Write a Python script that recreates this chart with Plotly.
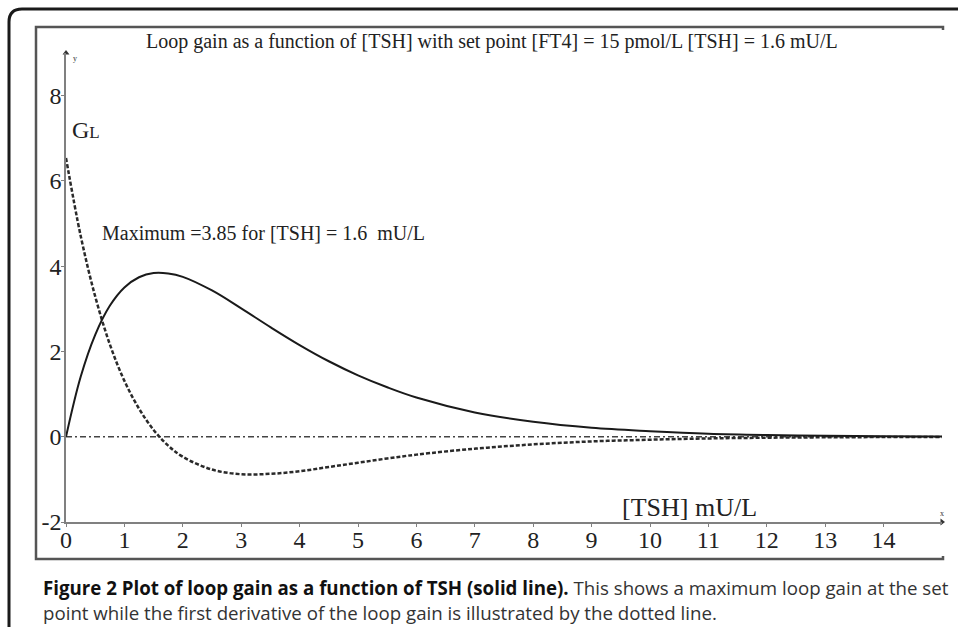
import plotly.graph_objects as go

# ---- data ----
tsh = [0, 0.25, 0.5, 0.75, 1.0, 1.25, 1.5, 1.75, 2.0, 2.5, 3.0, 3.5, 4.0, 4.5,
       5.0, 5.5, 6.0, 7.0, 8.0, 9.0, 10.0, 11.0, 12.0, 13.0, 14.0, 15.0]
loop_gain = [0.0, 1.40, 2.39, 3.07, 3.50, 3.74, 3.84, 3.83, 3.75, 3.43, 3.01, 2.57,
             2.15, 1.77, 1.44, 1.16, 0.92, 0.57, 0.35, 0.21, 0.13, 0.07, 0.04,
             0.025, 0.014, 0.008]
derivative = [6.54, 4.72, 3.29, 2.17, 1.31, 0.66, 0.16, -0.21, -0.47, -0.77, -0.88,
              -0.87, -0.81, -0.71, -0.61, -0.51, -0.42, -0.28, -0.18, -0.11, -0.07,
              -0.04, -0.023, -0.014, -0.008, -0.005]
zero_x = [0, 15]
zero_y = [0, 0]
x_ticks = list(range(0, 15))
y_ticks = [-2, 0, 2, 4, 6, 8]

W, H = 958, 627
L, R, T, B = 66, 16, 53, 105
PW, PH = W - L - R, H - T - B


def px(x):
    return (x - L) / PW


def py(y):
    return (H - B - y) / PH


SERIF = "Liberation Serif, Times New Roman, serif"
SANS = "Open Sans, sans-serif"

fig = go.Figure()
fig.add_trace(go.Scatter(x=zero_x, y=zero_y, mode="lines",
                         line=dict(color="#444444", width=1.5, dash="6px,3px,2px,3px"),
                         hoverinfo="skip", showlegend=False))
fig.add_trace(go.Scatter(x=tsh, y=derivative, mode="lines", line_shape="spline",
                         line=dict(color="#2a2a2a", width=2.5, dash="4px,2px"),
                         showlegend=False))
fig.add_trace(go.Scatter(x=tsh, y=loop_gain, mode="lines", line_shape="spline",
                         line=dict(color="#1a1a1a", width=2),
                         showlegend=False))
# axis arrowheads
fig.add_trace(go.Scatter(x=[0], y=[9], mode="markers", cliponaxis=False,
                         marker=dict(symbol="triangle-up", size=6, color="#333333"),
                         hoverinfo="skip", showlegend=False))
fig.add_trace(go.Scatter(x=[15], y=[-2], mode="markers", cliponaxis=False,
                         marker=dict(symbol="triangle-right", size=6, color="#333333"),
                         hoverinfo="skip", showlegend=False))

fig.update_xaxes(range=[0, 15], tickvals=x_ticks, ticktext=[str(v) for v in x_ticks],
                 showgrid=False, zeroline=False, showline=True, linecolor="#808080",
                 linewidth=1.5, ticks="outside", ticklen=3, tickcolor="#808080",
                 ticklabelstandoff=-8,
                 tickfont=dict(family=SERIF, size=24, color="#222222"))
fig.update_yaxes(range=[-2, 9], tickvals=y_ticks, ticktext=[str(v) for v in y_ticks],
                 showgrid=False, zeroline=False, showline=True, linecolor="#808080",
                 linewidth=1.5, ticks="outside", ticklen=3, tickcolor="#808080",
                 ticklabelstandoff=-5,
                 tickfont=dict(family=SERIF, size=24, color="#222222"))

shapes = [
    dict(type="path", xref="paper", yref="paper",
         path=(f"M {px(9)},{py(650)} L {px(9)},{py(22)} "
               f"Q {px(9)},{py(9)} {px(22)},{py(9)} L {px(980)},{py(9)}"),
         line=dict(color="#1a1a1a", width=3)),
    dict(type="path", xref="paper", yref="paper",
         path=(f"M {px(943)},{py(30)} L {px(943)},{py(27)} L {px(36)},{py(27)} "
               f"L {px(36)},{py(559)} L {px(943)},{py(559)} L {px(943)},{py(556)}"),
         line=dict(color="#555555", width=2.5)),
]

annotations = [
    dict(text="Loop gain as a function of [TSH] with set point [FT4] = 15 pmol/L [TSH] = 1.6 mU/L",
         x=px(492), y=py(42), xanchor="center", yanchor="middle",
         font=dict(family=SERIF, size=20, color="#222222")),
    dict(text="G<span style='font-size:17px'>L</span>", x=px(70), y=py(130),
         xanchor="left", yanchor="middle", font=dict(family=SERIF, size=24, color="#222222")),
    dict(text="Maximum =3.85 for [TSH] = 1.6&nbsp; mU/L", x=px(100), y=py(233),
         xanchor="left", yanchor="middle", font=dict(family=SERIF, size=20, color="#222222")),
    dict(text="[TSH] mU/L", x=px(620), y=py(507), xanchor="left", yanchor="middle",
         font=dict(family=SERIF, size=26, color="#222222")),
    dict(text="y", x=px(71), y=py(58), xanchor="left", yanchor="middle",
         font=dict(family=SERIF, size=8, color="#333333")),
    dict(text="x", x=px(942), y=py(513), xanchor="center", yanchor="middle",
         font=dict(family=SERIF, size=8, color="#333333")),
    dict(text=("<b>Figure 2 Plot of loop gain as a function of TSH (solid line).</b>"
               "<span style='color:#333333'> This shows a maximum loop gain at the set</span>"),
         x=px(41), y=py(587), xanchor="left", yanchor="middle", align="left",
         font=dict(family=SANS, size=18.7, color="#111111")),
    dict(text="point while the first derivative of the loop gain is illustrated by the dotted line.",
         x=px(41), y=py(612), xanchor="left", yanchor="middle", align="left",
         font=dict(family=SANS, size=18.7, color="#333333")),
]
for a in annotations:
    a.update(xref="paper", yref="paper", showarrow=False)

fig.update_layout(width=W, height=H, margin=dict(l=L, r=R, t=T, b=B, pad=0),
                  paper_bgcolor="white", plot_bgcolor="white",
                  shapes=shapes, annotations=annotations, showlegend=False)

fig.write_html("out.html", config={"displayModeBar": False},
               post_script="document.body.style.margin='0';document.body.style.overflow='hidden';")
